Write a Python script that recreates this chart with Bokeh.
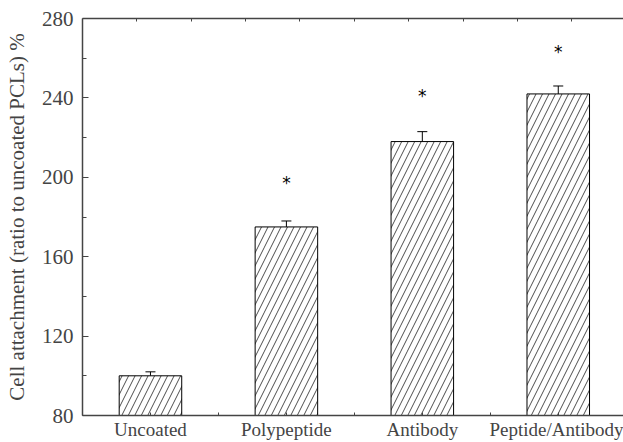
from bokeh.plotting import figure
from bokeh.models import (Range1d, FixedTicker, LinearAxis, Whisker, TeeHead,
                          ColumnDataSource)
from bokeh.embed import file_html
from bokeh.resources import INLINE
from bokeh.core.properties import value

# ---- data ----
categories = ["Uncoated", "Polypeptide", "Antibody", "Peptide/Antibody"]
values = [100, 175, 218, 242]
errors = [2, 3, 5, 4]
star_cats = ["Polypeptide", "Antibody", "Peptide/Antibody"]
star_y = [197, 241, 263]
y_ticks = [80, 120, 160, 200, 240, 280]

xpos = list(range(1, len(categories) + 1))
upper = [v + e for v, e in zip(values, errors)]
src = ColumnDataSource(dict(x=xpos, top=values, upper=upper))
star_x = [categories.index(c) + 1 for c in star_cats]

FONT = "Liberation Serif"

p = figure(width=623, height=442, output_backend="svg", toolbar_location=None,
           x_range=Range1d(0.5, 4.48), y_range=Range1d(80, 280),
           min_border_left=82, min_border_right=0, min_border_top=18,
           min_border_bottom=25, x_axis_location="below")
p.outline_line_color = None
p.xgrid.visible = False
p.ygrid.visible = False
p.background_fill_color = "white"

p.vbar(x="x", top="top", bottom=80, width=0.46, source=src,
       fill_color="white", line_color="black", line_width=1,
       hatch_pattern="/", hatch_color="black", hatch_weight=0.7, hatch_scale=13)

p.add_layout(Whisker(source=src, base="x", lower="top", upper="upper",
                     line_color="black", line_width=1,
                     upper_head=TeeHead(size=10, line_color="black", line_width=1),
                     lower_head=None))

p.text(x=star_x, y=star_y, text=["*"] * len(star_x), text_align="center",
       text_baseline="middle", text_font=value("DejaVu Sans"),
       text_font_size="17px", text_color="black")

axis_col = "#444444"

# left axis
ya = p.yaxis[0]
ya.ticker = FixedTicker(ticks=y_ticks, minor_ticks=[100, 140, 180, 220, 260])
ya.axis_label = "Cell attachment (ratio to uncoated PCLs) %"
ya.axis_label_text_font = FONT
ya.axis_label_text_font_style = "normal"
ya.axis_label_text_font_size = "21px"
ya.axis_label_standoff = 10
ya.major_label_text_font = FONT
ya.major_label_text_font_size = "21px"
ya.major_label_standoff = 9
ya.major_tick_in = 6
ya.major_tick_out = 0
ya.minor_tick_in = 4
ya.minor_tick_out = 0
ya.axis_line_color = axis_col
ya.axis_line_width = 1.5
ya.major_tick_line_color = axis_col
ya.minor_tick_line_color = axis_col

# bottom axis
xa = p.xaxis[0]
xa.ticker = FixedTicker(ticks=xpos, minor_ticks=[0.5, 1.5, 2.5, 3.5])
xa.major_label_overrides = {i + 1: c for i, c in enumerate(categories)}
xa.major_label_text_font = FONT
xa.major_label_text_font_size = "19px"
xa.major_label_standoff = 3
xa.major_tick_in = 3
xa.major_tick_out = 0
xa.minor_tick_in = 3
xa.minor_tick_out = 0
xa.axis_line_color = axis_col
xa.axis_line_width = 1.5
xa.major_tick_line_color = axis_col
xa.minor_tick_line_color = axis_col

# top axis (ticks only)
ta = LinearAxis(ticker=FixedTicker(ticks=[0.9, 1.3, 1.7, 2.1, 2.5, 2.9, 3.3, 3.7, 4.1]),
                major_label_text_font_size="0px", major_label_text_color=None,
                major_tick_in=3, major_tick_out=0, minor_tick_line_color=None,
                axis_line_color=axis_col, axis_line_width=1.5,
                major_tick_line_color=axis_col, major_label_standoff=0)
p.add_layout(ta, "above")

open("out.html", "w").write(file_html(p, INLINE))
